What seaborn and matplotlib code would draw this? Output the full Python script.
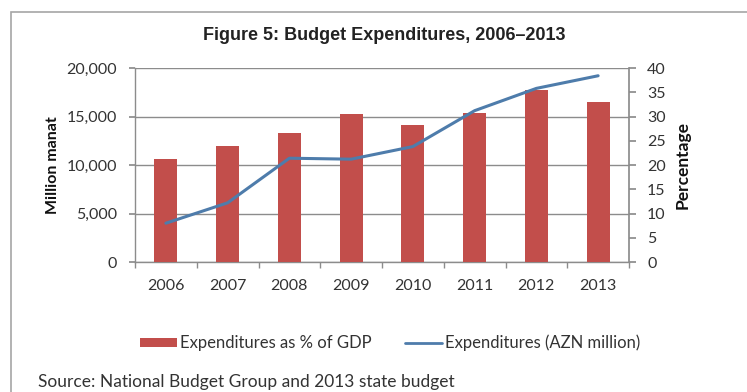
import matplotlib
matplotlib.use("Agg")
import matplotlib.pyplot as plt
import seaborn as sns
from matplotlib.patches import Rectangle, Patch
from matplotlib.lines import Line2D
from matplotlib.ticker import FuncFormatter, MultipleLocator

# Budget expenditures of Azerbaijan, 2006-2013
years = ["2006", "2007", "2008", "2009", "2010", "2011", "2012", "2013"]
pct_of_gdp = [21.2, 24.0, 26.7, 30.6, 28.2, 30.7, 35.4, 33.0]          # % of GDP (right axis)
exp_azn_million = [4000, 6100, 10700, 10600, 11900, 15600, 17900, 19200]  # AZN million (left axis)

bar_label = "Expenditures as % of GDP"
line_label = "Expenditures (AZN million)"
title = "Figure 5: Budget Expenditures, 2006\u20132013"
source = "Source: National Budget Group and 2013 state budget"

BAR = "#C24E4B"
LINE = "#4E7CAB"
GRID = "#8C8C8C"
TEXT = "#333333"

sns.set_theme(style="white")
plt.rcParams["font.family"] = ["Lato", "DejaVu Sans"]

W, H = 747, 392
fig = plt.figure(figsize=(W / 100, H / 100), dpi=100)
fig.patch.set_facecolor("white")

# grey frame around the chart area
fig.add_artist(Rectangle((11 / W, -0.05), 1.0, 1 - 12 / H + 0.05,
                         transform=fig.transFigure, fill=False,
                         edgecolor="#A6A6A6", lw=1.2))

left, right, top, bottom = 135, 629, 68, 262
ax = fig.add_axes([left / W, 1 - bottom / H, (right - left) / W, (bottom - top) / H])
ax_pct = ax.twinx()
ax_line = ax.twinx()

# bars: share of GDP on the right-hand scale
sns.barplot(x=years, y=pct_of_gdp, ax=ax_pct, color=BAR, saturation=1,
            width=0.37, errorbar=None, linewidth=0)

# line: expenditures in million manat on the left-hand scale
sns.pointplot(x=years, y=exp_azn_million, ax=ax_line, color=LINE,
              markers="", linewidth=2.2, errorbar=None)

ax.set_ylim(0, 20000)
ax_line.set_ylim(0, 20000)
ax_pct.set_ylim(0, 40)
ax.set_xlim(-0.5, len(years) - 0.5)

# left axis
ax.yaxis.set_major_locator(MultipleLocator(5000))
ax.yaxis.set_major_formatter(FuncFormatter(lambda v, _: f"{v:,.0f}"))
ax.tick_params(axis="y", which="major", left=True, length=4, color=GRID,
               labelsize=11.5, labelcolor=TEXT, pad=9)
ax.yaxis.grid(True, color=GRID, lw=1)
ax.xaxis.grid(False)
ax.set_ylabel("Million manat", fontsize=11.5, fontweight="bold", color="#111111")
ax.yaxis.set_label_coords(-0.152, 0.5)

# x axis: labels under bars, tick marks between categories
ax.set_xticks(range(len(years)))
ax.set_xticklabels(years)
ax.set_xticks([i - 0.5 for i in range(len(years) + 1)], minor=True)
ax.tick_params(axis="x", which="major", length=0, labelsize=11.5,
               labelcolor=TEXT, pad=12)
ax.tick_params(axis="x", which="minor", bottom=True, length=4, color=GRID)
ax.set_xlabel("")

for name in ("top", "right"):
    ax.spines[name].set_visible(False)
for name in ("left", "bottom"):
    ax.spines[name].set_color(GRID)
    ax.spines[name].set_linewidth(1)

# right axis
ax_pct.yaxis.set_major_locator(MultipleLocator(5))
ax_pct.tick_params(axis="y", right=True, length=5, color=GRID,
                   labelsize=11.5, labelcolor=TEXT, pad=8)
ax_pct.set_ylabel("Percentage", fontsize=12.5, fontweight="bold", color="#111111")
ax_pct.yaxis.set_label_position("right")
ax_pct.yaxis.set_label_coords(1.093, 0.5)
ax_pct.set_xlabel("")
for name in ("top", "left", "bottom"):
    ax_pct.spines[name].set_visible(False)
ax_pct.spines["right"].set_color(GRID)
ax_pct.grid(False)

ax_line.set_axis_off()

fig.text(384 / W, 1 - 36 / H, title, ha="center", va="center",
         fontsize=13, fontweight="bold", family=["Liberation Sans", "DejaVu Sans"],
         color="#222222")

handles = [Patch(facecolor=BAR, edgecolor="none"), Line2D([], [], color=LINE, lw=2)]
fig.legend(handles, [bar_label, line_label], loc="center",
           bbox_to_anchor=(390 / W, 1 - 343 / H), ncol=2, frameon=False,
           fontsize=12, handlelength=2.2, handleheight=0.5, handletextpad=0.2,
           columnspacing=2.0, labelcolor=TEXT)

fig.text(38 / W, 1 - 382 / H, source, ha="left", va="center",
         fontsize=12.5, color=TEXT)

fig.savefig("out.png", dpi=100)
